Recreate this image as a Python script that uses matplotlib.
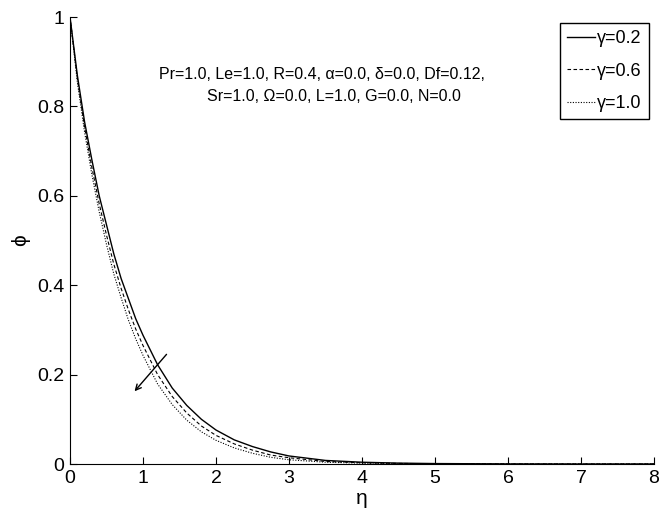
import matplotlib.pyplot as plt
import numpy as np

plt.rcParams['font.family'] = ['Liberation Sans', 'DejaVu Sans']

# values
eta = [0, 0.1, 0.2, 0.3, 0.4, 0.5, 0.6, 0.7, 0.8, 0.9, 1.0, 1.2, 1.4, 1.6, 1.8, 2.0,
       2.25, 2.5, 2.75, 3.0, 3.5, 4.0, 4.5, 5.0, 6.0, 7.0, 8.0]
phi_g02 = [1, 0.87, 0.765, 0.68, 0.60, 0.535, 0.47, 0.415, 0.37, 0.325, 0.288, 0.222,
           0.170, 0.131, 0.100, 0.076, 0.054, 0.039, 0.027, 0.018, 0.008, 0.004, 0.002,
           0.001, 0.0002, 0, 0]
phi_g06 = [1, 0.863, 0.753, 0.663, 0.582, 0.512, 0.447, 0.393, 0.345, 0.302, 0.265, 0.200,
           0.151, 0.114, 0.085, 0.064, 0.045, 0.031, 0.020, 0.014, 0.0057, 0.0028, 0.0013,
           0.0006, 0.0001, 0, 0]
phi_g10 = [1, 0.855, 0.742, 0.647, 0.564, 0.491, 0.425, 0.372, 0.322, 0.280, 0.243, 0.179,
           0.133, 0.098, 0.072, 0.053, 0.036, 0.024, 0.015, 0.0095, 0.004, 0.0019, 0.0009,
           0.0004, 0, 0, 0]

labels = ['γ=0.2', 'γ=0.6', 'γ=1.0']
xticks = [0, 1, 2, 3, 4, 5, 6, 7, 8]
yticks = [0, 0.2, 0.4, 0.6, 0.8, 1]
ytick_labels = ['0', '0.2', '0.4', '0.6', '0.8', '1']

fig = plt.figure(figsize=(6.7, 5.17), dpi=100)
ax = fig.add_axes([0.1045, 0.1025, 0.8716, 0.8646])

ax.plot(eta, phi_g02, color='k', lw=1.0, label=labels[0])
ax.plot(eta, phi_g06, color='k', lw=0.8, dashes=(3.2, 2.2), label=labels[1])
ax.plot(eta, phi_g10, color='k', lw=0.8, dashes=(1, 1.4), label=labels[2])

ax.set_xlim(0, 8)
ax.set_ylim(0, 1)
ax.set_xticks(xticks)
ax.set_yticks(yticks)
ax.set_yticklabels(ytick_labels)
ax.tick_params(direction='in', length=5, labelsize=14, colors='k', pad=4)
ax.spines['top'].set_visible(False)
ax.spines['right'].set_visible(False)

ax.set_xlabel('η', fontsize=15, labelpad=2)
ax.set_ylabel('ϕ', fontsize=15, labelpad=5)

ax.text(3.45, 0.871, 'Pr=1.0, Le=1.0, R=0.4, α=0.0, δ=0.0, Df=0.12,',
        ha='center', va='center', fontsize=11.5)
ax.text(3.61, 0.822, 'Sr=1.0, Ω=0.0, L=1.0, G=0.0, N=0.0',
        ha='center', va='center', fontsize=11.5)

ax.annotate('', xy=(0.859, 0.158), xytext=(1.347, 0.25),
            arrowprops=dict(arrowstyle='->', color='k', lw=1.0))

leg = ax.legend(loc='upper right', bbox_to_anchor=(0.9914, 0.9866), fontsize=13,
                handlelength=1.55, handletextpad=0.1, borderpad=0.4,
                labelspacing=0.85, fancybox=False, framealpha=1, borderaxespad=0)
leg.get_frame().set_edgecolor('k')
leg.get_frame().set_linewidth(1.0)

plt.savefig('out.png', dpi=100)
